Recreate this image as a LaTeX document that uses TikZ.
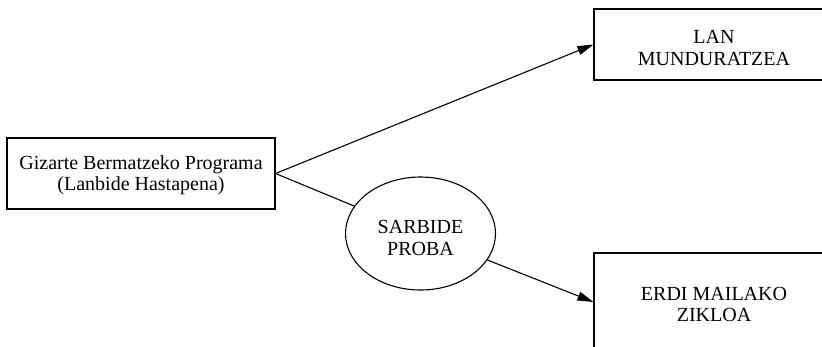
\documentclass[tikz,border=0pt]{standalone}
\usepackage{fontspec}
\setmainfont{Liberation Serif}
\usetikzlibrary{arrows.meta,shapes.geometric}
\begin{document}
\begin{tikzpicture}[x=1pt,y=-1pt,
  txt/.style={font=\fontsize{20}{21.5}\selectfont, align=center, inner sep=0pt},
  box/.style={txt, draw, line width=1.1pt},
  oval/.style={txt, draw, ellipse, line width=1.1pt},
  conn/.style={line width=1.1pt},
  arr/.style={conn, -{Triangle[length=16pt,width=9pt]}}]
\useasboundingbox (0,0) rectangle (822,346);
\node[box, minimum width=268pt, minimum height=71pt] (g) at (141,173.5)
  {\rule{0pt}{17.7pt}Gizarte Bermatzeko Programa\\(Lanbide Hastapena)};
\node[box, minimum width=240pt, minimum height=71pt] (lan) at (714,44.5)
  {\rule{0pt}{20pt}LAN\\MUNDURATZEA};
\node[box, minimum width=240pt, minimum height=98pt] (erdi) at (714,302)
  {\rule{0pt}{18.3pt}ERDI MAILAKO\\ZIKLOA};
\node[oval, minimum width=150pt, minimum height=113pt] (sp) at (420.5,233.5)
  {\rule{0pt}{22.3pt}SARBIDE\\PROBA};
\draw[arr] (g.east) -- (lan.west);
\draw[conn] (g.east) -- (sp);
\draw[arr] (sp) -- (erdi.west);
\end{tikzpicture}
\end{document}
